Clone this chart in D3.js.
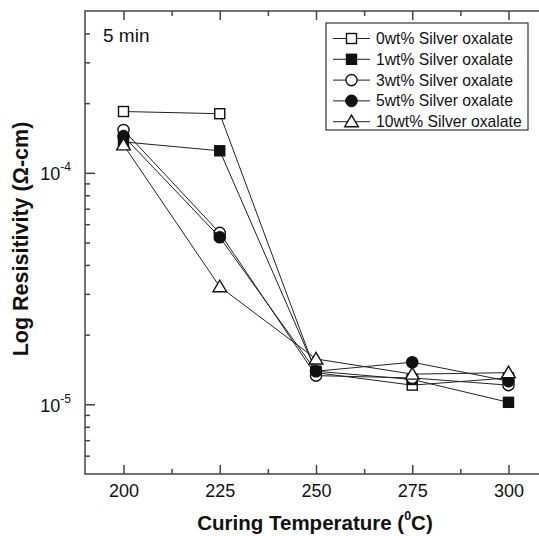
<!DOCTYPE html>
<html>
<head>
<meta charset="utf-8">
<script src="https://cdn.jsdelivr.net/npm/d3@7"></script>
<style>
  html, body { margin: 0; padding: 0; background: #fff; }
  svg { display: block; }
  text { font-family: "Liberation Sans", Arial, sans-serif; fill: #111; }
</style>
</head>
<body>
<svg id="chart" width="539" height="536"></svg>
<script>
// ---- data ----
const temperatures = [200, 225, 250, 275, 300];
const seriesNames = ["0wt% Silver oxalate", "1wt% Silver oxalate", "3wt% Silver oxalate", "5wt% Silver oxalate", "10wt% Silver oxalate"];
const wt0  = [1.84e-4, 1.80e-4, 1.37e-5, 1.21e-5, 1.30e-5];
const wt1  = [1.36e-4, 1.245e-4, 1.39e-5, 1.28e-5, 1.02e-5];
const wt3  = [1.53e-4, 5.5e-5, 1.33e-5, 1.30e-5, 1.21e-5];
const wt5  = [1.44e-4, 5.27e-5, 1.39e-5, 1.52e-5, 1.26e-5];
const wt10 = [1.32e-4, 3.22e-5, 1.57e-5, 1.35e-5, 1.37e-5];
const xTicks = [200, 225, 250, 275, 300];
const xMinorTicks = [212.5, 237.5, 262.5, 287.5];
const yMajorTicks = [1e-5, 1e-4];
const yMinorTicks = [6e-6, 7e-6, 8e-6, 9e-6, 2e-5, 3e-5, 4e-5, 5e-5, 6e-5, 7e-5, 8e-5, 9e-5, 2e-4, 3e-4, 4e-4];
const yTickExponents = ["-5", "-4"];
const annotation = "5 min";

const seriesValues = [wt0, wt1, wt3, wt5, wt10];
const markerShapes = ["square", "square", "circle", "circle", "triangle"];
const markerFilled = [false, true, false, true, false];

// ---- layout ----
const svg = d3.select("#chart");
const L = 85, R = 547, T = 11, B = 474;
const x = d3.scaleLinear().domain([190, 310]).range([L, R]);
const y = d3.scaleLog().domain([5e-6, 5e-4]).range([B, T]);
const axisColor = "#444";

// frame
svg.append("rect").attr("x", L).attr("y", T).attr("width", R - L).attr("height", B - T)
  .attr("fill", "none").attr("stroke", axisColor).attr("stroke-width", 1.5);

function styleAxis(g) {
  g.select(".domain").remove();
  g.selectAll(".tick line").attr("stroke", axisColor).attr("stroke-width", 1.5);
}

// bottom axis
svg.append("g").attr("transform", `translate(0,${B})`)
  .call(d3.axisBottom(x).tickValues(xTicks).tickSize(-9).tickPadding(10).tickFormat(d3.format("d")))
  .call(styleAxis)
  .call(g => g.selectAll("text").attr("font-size", 18).attr("font-family", "Liberation Sans, Arial, sans-serif").attr("fill", "#111"));
svg.append("g").attr("transform", `translate(0,${B})`)
  .call(d3.axisBottom(x).tickValues(xMinorTicks).tickSize(-5).tickFormat(""))
  .call(styleAxis);
// top axis
svg.append("g").attr("transform", `translate(0,${T})`)
  .call(d3.axisTop(x).tickValues(xTicks).tickSize(-9).tickFormat(""))
  .call(styleAxis);
svg.append("g").attr("transform", `translate(0,${T})`)
  .call(d3.axisTop(x).tickValues(xMinorTicks).tickSize(-5).tickFormat(""))
  .call(styleAxis);

// left axis
const yAxisG = svg.append("g").attr("transform", `translate(${L},0)`)
  .call(d3.axisLeft(y).tickValues(yMajorTicks).tickSize(-10).tickFormat(""))
  .call(styleAxis);
yAxisG.selectAll(".tick text").remove();
yAxisG.selectAll(".tick").each(function(d, i) {
  const t = d3.select(this).append("text")
    .attr("x", -14).attr("y", 7).attr("text-anchor", "end")
    .attr("font-size", 18).attr("fill", "#111");
  t.append("tspan").text("10");
  t.append("tspan").attr("font-size", 12).attr("dy", -9).text(yTickExponents[i]);
});
svg.append("g").attr("transform", `translate(${L},0)`)
  .call(d3.axisLeft(y).tickValues(yMinorTicks).tickSize(-5).tickFormat(""))
  .call(styleAxis);

// axis titles
const xt = svg.append("text").attr("x", 315).attr("y", 530).attr("text-anchor", "middle")
  .attr("font-size", 20.5).attr("font-weight", "bold");
xt.append("tspan").text("Curing Temperature (");
xt.append("tspan").attr("font-size", 12.5).attr("dy", -10).text("0");
xt.append("tspan").attr("dy", 10).text("C)");

svg.append("text").attr("transform", `translate(28,239) rotate(-90)`).attr("text-anchor", "middle")
  .attr("font-size", 21.5).attr("font-weight", "bold").text("Log Resisitivity (\u03A9-cm)");

// annotation
svg.append("text").attr("x", 103).attr("y", 42).attr("font-size", 19).text(annotation);

// markers
function drawMarker(g, shape, filled, cx, cy) {
  const fill = filled ? "#111" : "#fff";
  if (shape === "square") {
    g.append("rect").attr("x", cx - 5).attr("y", cy - 5).attr("width", 10).attr("height", 10)
      .attr("fill", fill).attr("stroke", "#111").attr("stroke-width", 1.4);
  } else if (shape === "circle") {
    g.append("circle").attr("cx", cx).attr("cy", cy).attr("r", 5.6)
      .attr("fill", fill).attr("stroke", "#111").attr("stroke-width", 1.4);
  } else {
    g.append("path").attr("d", `M${cx},${cy - 6.5}L${cx + 6.8},${cy + 5}L${cx - 6.8},${cy + 5}Z`)
      .attr("fill", fill).attr("stroke", "#111").attr("stroke-width", 1.4);
  }
}

const line = d3.line().x((d, i) => x(temperatures[i])).y(d => y(d));
const plot = svg.append("g");
seriesValues.forEach((vals, s) => {
  const g = plot.append("g");
  g.append("path").attr("d", line(vals)).attr("fill", "none").attr("stroke", "#222").attr("stroke-width", 1);
  vals.forEach((v, i) => drawMarker(g, markerShapes[s], markerFilled[s], x(temperatures[i]), y(v)));
});

// legend
const lg = svg.append("g");
lg.append("rect").attr("x", 326).attr("y", 23).attr("width", 202).attr("height", 107)
  .attr("fill", "#fff").attr("stroke", "#333").attr("stroke-width", 1.2);
seriesNames.forEach((name, i) => {
  const cy = 38.5 + i * 20.8;
  lg.append("line").attr("x1", 333).attr("x2", 370).attr("y1", cy).attr("y2", cy)
    .attr("stroke", "#222").attr("stroke-width", 1);
  drawMarker(lg, markerShapes[i], markerFilled[i], 351.5, cy);
  lg.append("text").attr("x", 376).attr("y", cy + 5.5).attr("font-size", 15.7).text(name);
});
</script>
</body>
</html>
